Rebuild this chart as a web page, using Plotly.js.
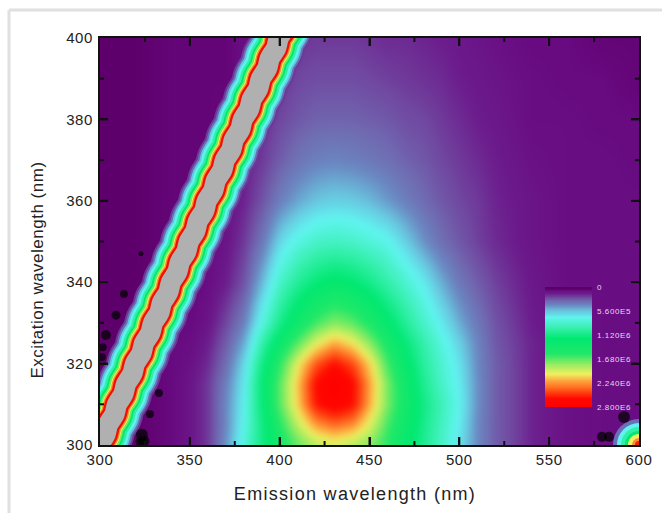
<!DOCTYPE html>
<html><head><meta charset="utf-8">
<script src="https://cdn.plot.ly/plotly-3.0.1.min.js"></script>
<style>html,body{margin:0;padding:0;background:#fff}#c{width:662px;height:513px}
.xtitle{letter-spacing:1.3px}.ytitle{letter-spacing:.5px}
.xaxislayer-above text,.yaxislayer-above text{letter-spacing:.6px}</style>
</head><body>
<svg width="0" height="0" style="position:absolute"><filter id="edgeBlur" x="0" y="0" width="100%" height="100%" color-interpolation-filters="sRGB"><feGaussianBlur stdDeviation="3"/><feComponentTransfer><feFuncA type="linear" slope="0" intercept="1"/></feComponentTransfer></filter></svg>
<div id="c"></div>
<script>
const PEAK = 2.8e6;
const emission = [280,300,320,340,350,360,370,380,390,400,410,420,430,440,450,460,470,480,490,500,510,520,540,560,580,600,620];
const excitation = [290,300,305,310,315,320,325,330,340,350,360,370,380,390,400,410];
// percent of peak intensity, one row per excitation wavelength
const r290 = [1.5,1.5,1.5,2.5,4,7,15,27,40,50,58,63,65,63,59,53,45,38,30,23,15,10,5.5,3.5,3,3,3];
const r300 = [1.5,1.5,1.5,2.5,4,7,16,28,40,51,60,66,69,66,62,55,46,38,30,23,15,10,5.5,3.5,3,3,3];
const r305 = [1.5,1.5,1.5,2.5,4,7,15,26,40,55,68,79,83,80,70,58,48,39,31,24,15,10,5.5,3.5,3,3,3];
const r310 = [1.5,1.5,1.5,2.5,4,7,15,25,42,60,75,92,97,93,77,62,50,40,32,25,15.5,10,5.5,3.5,3,3,3];
const r315 = [1.5,1.5,1.5,2.5,4,7,14,24,43,60,76,94,100,94,78,62,49,38,30,24,15.5,10,5.5,3.5,3,3,3];
const r320 = [1.5,1.5,1.5,2.5,3.5,6,12,22,40,56,72,86,93,87,74,58,46,36,29,23,15,10,5.5,3.5,3,3,3];
const r325 = [1.5,1.5,1.5,2.5,3,5,10,18,34,48,60,71,78,73,63,52,42,34,27,21,14.5,9.5,5.5,3.5,3,3,3];
const r330 = [1.5,1.5,1.5,2.5,2.5,4,8,14,27,39,49,58,63,60,53,45,37,30,24,18,13,9,5,3.5,3,3,3];
const r340 = [1.5,1.5,1.5,2,2,3,5,9,19,30,37,42,45,43,39,34,29,24,18,13,10,7.5,4.5,3,3,3,3];
const r350 = [1.5,1.5,1.5,2,2,2.5,4,7,13,22,27,30,31,30,28,26,21,16,12,9.5,7.5,6,4,3,3,3,3];
const r360 = [1.5,1.5,1.5,2,2,2.5,3.5,5.5,9,14,17.5,20,21,20.5,19,16.5,14,11.5,9.5,8,7,5.5,4,3,3,3,3];
const r370 = [1.5,1.5,1.5,2,2,2,3,5,7,10,12.5,14,14.5,14,13,12,10.5,9.5,8,7,6,5,3.5,3,3,2.5,2.5];
const r380 = [1.5,1.5,1.5,2,2,2,2.5,4,6,8,9.5,10.5,10.5,10.5,10,9.5,8.5,8,7,6,5,4.5,3,3,2.5,2.5,2.5];
const r390 = [1.5,1.5,1.5,2,2,2,2,3,5,6.5,8,8.5,8.5,8.5,8,7.5,7,6.5,6,5,4.5,4,3,2.5,2.5,2,2];
const r400 = [1.5,1.5,1.5,2,2,2,2,3,4,5.5,6.5,7,7,7,6.5,6,6,5.5,5,4.5,4,3.5,2.5,2.5,2,2,2];
const r410 = [1.5,1.5,1.5,2,2,2,2,3,4,5,6,6.5,6.5,6.5,6,6,5.5,5,4.5,4,3.5,3,2.5,2.5,2,2,2];
const percentRows = [r290,r300,r305,r310,r315,r320,r325,r330,r340,r350,r360,r370,r380,r390,r400,r410];
const intensity = percentRows.map(r => r.map(v => v * PEAK / 100));

// scatter band centre line
const bandEm = [289.5,293,294.5,298,299.5,303,304.5,308,309.5,313,314.5,318,319.5,323,324.5,328,329.5,333,334.5,338,339.5,343,344.5,348,349.5,353,354.5,358,359.5,363,364.5,368,369.5,373,374.5,378,379.5,383,384.5,388,389.5,393,394.5,398,399.5,403,404.5,408,409.5];
const bandEx = [290,292.5,295,297.5,300,302.5,305,307.5,310,312.5,315,317.5,320,322.5,325,327.5,330,332.5,335,337.5,340,342.5,345,347.5,350,352.5,355,357.5,360,362.5,365,367.5,370,372.5,375,377.5,380,382.5,385,387.5,390,392.5,395,397.5,400,402.5,405,407.5,410];

// saturated blobs
const blobEm = [313.3,308.9,303.3,301,301.5,322.8,332.8,327.8,323.3,322.8,324.5,591.7,579.4,583.3];
const blobEx = [337.1,331.9,327,321.6,324,347,312.8,307.6,302.5,300.8,301,306.9,302,302];

// second-order corner point
const cornerEm = [600];
const cornerEx = [300];

// legend
const legendLevels = [0,1e5,2e5,3e5,4e5,5e5,6e5,7e5,8e5,9e5,1e6,1.2e6,1.4e6,1.6e6,1.8e6,2e6,2.1e6,2.2e6,2.3e6,2.4e6,2.5e6,2.6e6,2.7e6,2.8e6];
const legendTickVals = [0,5.6e5,1.12e6,1.68e6,2.24e6,2.8e6];
const legendTickText = ['0','5.600E5','1.120E6','1.680E6','2.240E6','2.800E6'];

// axis ticks
const xMajor = [300,350,400,450,500,550,600];
const xMinor = [325,375,425,475,525,575];
const yMajor = [300,320,340,360,380,400];
const yMinor = [310,330,350,370,390];
const xLabels = ['300','350','400','450','500','550','600'];
const yLabels = ['300','320','340','360','380','400'];

const cs = [[0,'#56006a'],[0.015,'#5e006c'],[0.025,'#680a80'],[0.05,'#6c1c8c'],[0.08,'#7048a0'],[0.11,'#7068b0'],[0.15,'#6a88c2'],[0.2,'#68c8e0'],[0.25,'#60f4f0'],[0.33,'#38f0b0'],[0.43,'#00e870'],[0.55,'#20e868'],[0.65,'#a0ec60'],[0.72,'#f0f060'],[0.79,'#ff9a38'],[0.87,'#ff4410'],[0.93,'#ff0800'],[1,'#ff0000']];

const bandLayers = [
 [62,'#6a3a96'],[58,'#6a70b8'],[54,'#62c8e0'],[50,'#60f2f0'],[45,'#30f0a8'],[40,'#00e870'],[36,'#70ec60'],[32,'#f0f060'],[30,'#ff8a30'],[27,'#f01000'],[22,'#b0b0b0']
];
const traces = [{
  type:'heatmap', x:emission, y:excitation, z:intensity, zmin:0, zmax:PEAK,
  colorscale:cs, zsmooth:'best', showscale:false, hoverinfo:'skip'
}];
bandLayers.forEach(l => traces.push({
  type:'scatter', mode:'lines', x:bandEm, y:bandEx, hoverinfo:'skip', showlegend:false,
  line:{color:l[1], width:l[0]*0.914, shape:'spline', smoothing:0.8}
}));
[[52,'#6a70b8'],[44,'#60f2f0'],[36,'#30f0a8'],[28,'#00e870'],[22,'#f0f060'],[14,'#ff8a30'],[8,'#f02000']].forEach(l => traces.push({
  type:'scatter', mode:'markers', x:cornerEm, y:cornerEx, hoverinfo:'skip', showlegend:false,
  marker:{size:l[0], color:l[1], line:{width:0}}
}));
traces.push({
  type:'scatter', mode:'markers', x:blobEm, y:blobEx, hoverinfo:'skip', showlegend:false,
  marker:{color:'#000', line:{width:0}, size:[8,9,10,8,8,5,8,8,12,11,11,12,10,10]}
});
traces.push({
  type:'heatmap', xaxis:'x2', yaxis:'y2', x:[0,1], y:legendLevels,
  z:legendLevels.map(v=>[v,v]), zmin:0, zmax:PEAK, colorscale:cs, zsmooth:'best', showscale:false, hoverinfo:'skip'
});

const fmtAxis = {
  showgrid:false, zeroline:false, showline:true, linecolor:'#111', linewidth:2, mirror:'allticks',
  ticks:'inside', tickwidth:2, ticklen:8, tickcolor:'#111',
  tickfont:{family:'Liberation Sans, Arial, sans-serif', size:15, color:'#222'}
};
const X0=100, X1=639, Y0=445, Y1=38;
const px = v => (v-X0)/(X1-X0), py = v => (Y0-v)/(Y0-Y1);

const tickLine = {color:'#111', width:2};
const tickShapes = [];
[[xMajor.slice(1,-1),8],[xMinor,4]].forEach(([vals,len]) => vals.forEach(v => {
  tickShapes.push({type:'line', xref:'x', yref:'paper', ysizemode:'pixel', yanchor:0, x0:v, x1:v, y0:0, y1:len, line:tickLine});
  tickShapes.push({type:'line', xref:'x', yref:'paper', ysizemode:'pixel', yanchor:1, x0:v, x1:v, y0:0, y1:-len, line:tickLine});
}));
[[yMajor.slice(1,-1),8],[yMinor,4]].forEach(([vals,len]) => vals.forEach(v => {
  tickShapes.push({type:'line', yref:'y', xref:'paper', xsizemode:'pixel', xanchor:0, y0:v, y1:v, x0:0, x1:len, line:tickLine});
  tickShapes.push({type:'line', yref:'y', xref:'paper', xsizemode:'pixel', xanchor:1, y0:v, y1:v, x0:0, x1:-len, line:tickLine});
}));

const layout = {
  width:662, height:513, paper_bgcolor:'#fff', plot_bgcolor:'#fff', showlegend:false,
  margin:{l:X0, r:662-X1, t:Y1, b:513-Y0, pad:0},
  xaxis:Object.assign({}, fmtAxis, {range:[300,600], tickvals:xMajor, ticktext:xLabels,
    title:{text:'Emission wavelength (nm)', standoff:20, font:{family:'Liberation Sans, Arial, sans-serif', size:18, color:'#222'}}}),
  yaxis:Object.assign({}, fmtAxis, {range:[300,400], tickvals:yMajor, ticktext:yLabels, ticklabelstandoff:2,
    title:{text:'Excitation wavelength (nm)', standoff:12, font:{family:'Liberation Sans, Arial, sans-serif', size:17, color:'#222'}}}),
  xaxis2:{domain:[px(545),px(592)], anchor:'y2', range:[0,1], showticklabels:false, ticks:'', showgrid:false, zeroline:false, showline:false, fixedrange:true},
  yaxis2:{domain:[py(407),py(287)], anchor:'x2', side:'right', range:[2.8e6,0], tickvals:legendTickVals, ticktext:legendTickText, ticks:'', showgrid:false, zeroline:false, showline:false, ticklabelstandoff:4,
    tickfont:{family:'Liberation Sans, Arial, sans-serif', size:8, color:'#e6d6f0'}},
  shapes:[
    {type:'line', xref:'paper', yref:'paper', x0:px(9), x1:px(9), y0:py(10), y1:py(513), line:{color:'#e0e0e0', width:3}},
    {type:'line', xref:'paper', yref:'paper', x0:px(9), x1:px(662), y0:py(10), y1:py(10), line:{color:'#e0e0e0', width:3}}
  ].concat(tickShapes)
};
Plotly.newPlot('c', traces, layout, {displayModeBar:false, responsive:false}).then(() => {
  const img = document.querySelector('.heatmaplayer image');
  if (img) img.style.filter = 'url(#edgeBlur)';
  const groups = [...document.querySelectorAll('.xy .scatterlayer .trace')];
  groups.slice(0, -1).forEach(t => { t.style.filter = 'blur(0.6px)'; });
  const xt = document.querySelector('.xtitle');
  if (xt) xt.setAttribute('x', 355);
  const yt = document.querySelector('.ytitle');
  if (yt) { yt.setAttribute('x', 43); yt.setAttribute('y', 270); yt.setAttribute('transform', 'rotate(-90,43,270)'); }
});
</script></body></html>
